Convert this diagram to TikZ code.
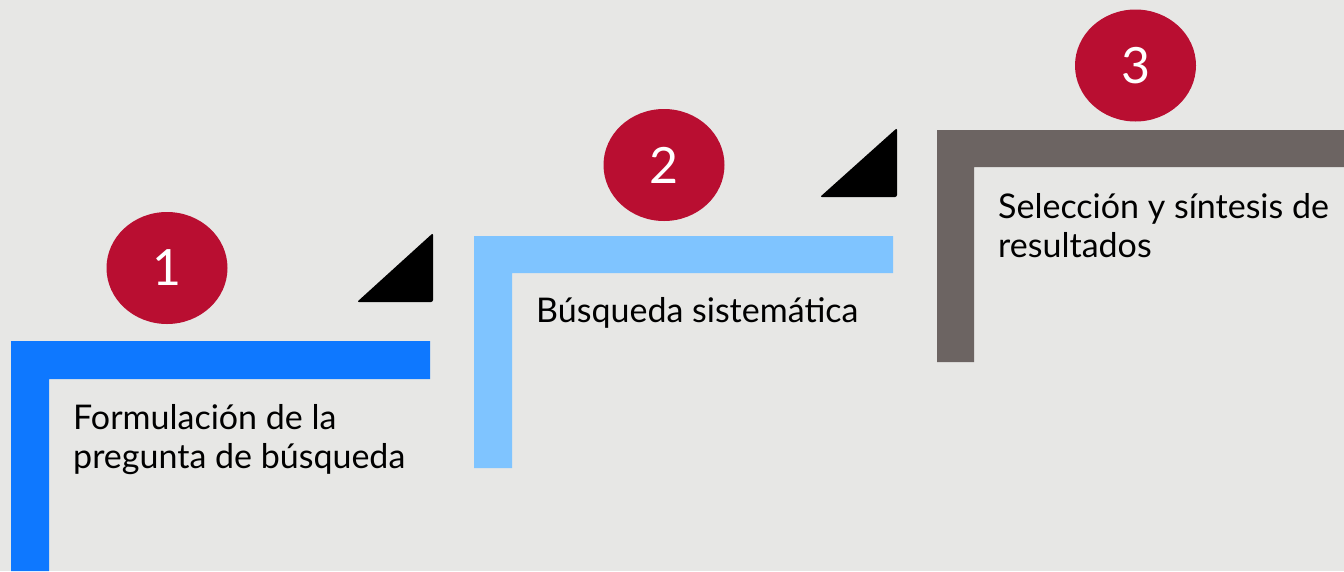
\documentclass[tikz,border=0pt]{standalone}
\usepackage{fontspec}
\setmainfont{Lato}
\definecolor{bg}{HTML}{E7E7E5}
\definecolor{stepblue}{HTML}{0E78FF}
\definecolor{steplight}{HTML}{7FC4FF}
\definecolor{stepgray}{HTML}{6C6462}
\definecolor{badgered}{HTML}{B90E31}
\tikzset{
  badge/.style={ellipse, fill=badgered, text=white, minimum width=121pt, minimum height=112pt, inner sep=0pt, font=\fontsize{50}{50}\selectfont},
  label/.style={anchor=base west, align=left, inner sep=0pt, text=black, font=\fontsize{34}{39}\selectfont},
  wedge/.style={fill=black, rounded corners=2pt}
}
\usetikzlibrary{shapes.geometric}
\begin{document}
\begin{tikzpicture}[x=1pt,y=-1pt]
\fill[bg] (0,0) rectangle (1344,571);
\useasboundingbox (0,0) rectangle (1344,571);
% step 1
\fill[stepblue] (11,571) -- (11,341) -- (430,341) -- (430,379) -- (49,379) -- (49,571) -- cycle;
% step 2
\fill[steplight] (474,468) -- (474,236) -- (893,236) -- (893,273) -- (512,273) -- (512,468) -- cycle;
% step 3
\fill[stepgray] (937,362) -- (937,130) -- (1344,130) -- (1344,167) -- (974,167) -- (974,362) -- cycle;
% wedges
\fill[wedge] (357,302) -- (433,233) -- (433,302) -- cycle;
\fill[wedge] (820,197) -- (897,128) -- (897,197) -- cycle;
% badges
\node[badge] (b1) at (167,268) {1};
\node[badge] (b2) at (664,165) {2};
\node[badge] (b3) at (1135.5,65.5) {3};
% labels (base anchor of a two-line node is the last line)
\node[label] (t1) at (73,468) {Formulación de la\\pregunta de búsqueda};
\node[label] (t2) at (536,322) {Búsqueda sistemática};
\node[label] (t3) at (998,257) {Selección y síntesis de\\resultados};
\end{tikzpicture}
\end{document}
